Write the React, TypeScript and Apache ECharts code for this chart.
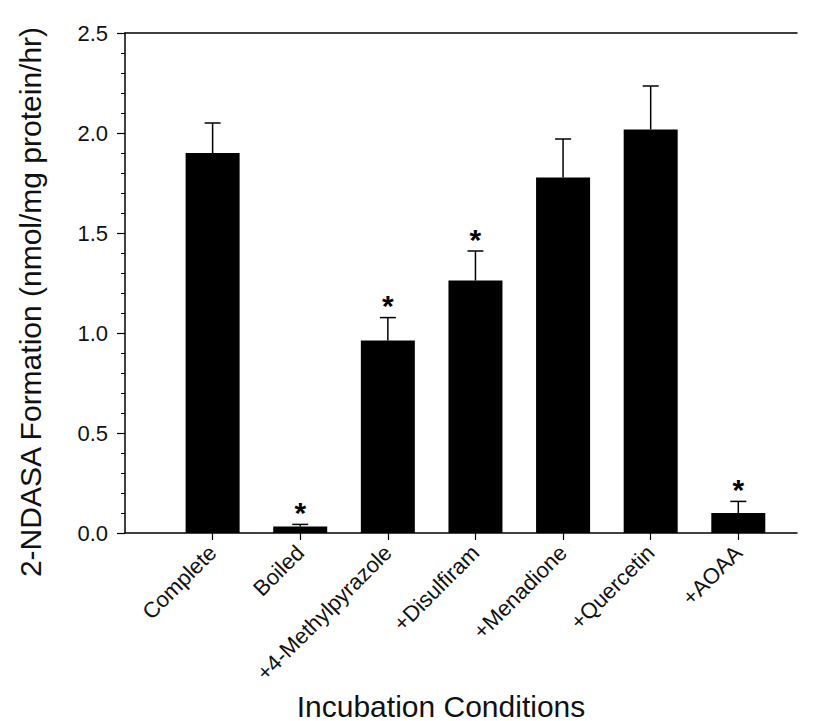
import React, { useEffect, useRef } from "react";
import * as echarts from "echarts";

const categories = ["Complete", "Boiled", "+4-Methylpyrazole", "+Disulfiram", "+Menadione", "+Quercetin", "+AOAA"];
const means = [1.9, 0.032, 0.963, 1.262, 1.777, 2.018, 0.1];
const errorTops = [2.05, 0.043, 1.077, 1.41, 1.97, 2.235, 0.158];
const significant = [false, true, true, true, false, false, true];
const yTicks = [0, 0.5, 1.0, 1.5, 2.0, 2.5];
const yTitle = "2-NDASA Formation (nmol/mg protein/hr)";
const xTitle = "Incubation Conditions";

const FONT = "'Liberation Sans', Arial, Helvetica, sans-serif";

export default function App() {
  const ref = useRef<HTMLDivElement>(null);
  useEffect(() => {
    if (!ref.current) return;
    const chart = echarts.init(ref.current, null, { renderer: "svg" });
    const idx = categories.map((_, i) => i);
    chart.setOption({
      animation: false,
      backgroundColor: "#ffffff",
      grid: { left: 125, right: 20, top: 33, bottom: 188, containLabel: false },
      graphic: [
        {
          type: "text",
          x: 30,
          y: 302,
          rotation: Math.PI / 2,
          style: {
            text: yTitle,
            fontFamily: FONT,
            fontSize: 30,
            fill: "#111",
            align: "center",
            verticalAlign: "middle",
          },
        },
        {
          type: "text",
          x: 441,
          y: 706,
          style: {
            text: xTitle,
            fontFamily: FONT,
            fontSize: 30,
            fill: "#111",
            align: "center",
            verticalAlign: "middle",
          },
        },
      ],
      xAxis: [
        {
          type: "value",
          min: -1,
          max: 6.67,
          interval: 1,
          position: "bottom",
          axisLine: { show: true, onZero: false, lineStyle: { color: "#000", width: 1.5 } },
          axisTick: { show: true, customValues: idx, length: 7, lineStyle: { color: "#000", width: 1.2 } },
          axisLabel: {
            show: true,
            customValues: idx,
            rotate: 45,
            margin: 16,
            fontFamily: FONT,
            fontSize: 22,
            color: "#111",
            formatter: (v: number) => {
              const i = Math.round(v);
              return Math.abs(v - i) < 1e-6 && i >= 0 && i < categories.length ? categories[i] : "";
            },
          },
          splitLine: { show: false },
        },
        {
          type: "value",
          min: -1,
          max: 6.67,
          position: "top",
          axisLine: { show: true, onZero: false, lineStyle: { color: "#000", width: 1.5 } },
          axisTick: { show: false },
          axisLabel: { show: false },
          splitLine: { show: false },
        },
      ],
      yAxis: {
        type: "value",
        min: 0,
        max: 2.5,
        interval: 0.5,
        axisLine: { show: true, onZero: false, lineStyle: { color: "#000", width: 1.5 } },
        axisTick: { show: true, length: 8, lineStyle: { color: "#000", width: 1.2 } },
        minorTick: { show: true, splitNumber: 5, length: 4, lineStyle: { color: "#000", width: 1 } },
        axisLabel: {
          margin: 17,
          fontFamily: FONT,
          fontSize: 22,
          color: "#111",
          customValues: yTicks,
          formatter: (v: number) => v.toFixed(1),
        },
        splitLine: { show: false },
      },
      series: [
        {
          type: "bar",
          xAxisIndex: 0,
          barWidth: 54,
          itemStyle: { color: "#000" },
          data: means.map((v, i) => [i, v]),
          z: 2,
        },
        {
          type: "custom",
          xAxisIndex: 0,
          data: means.map((v, i) => [i, v, errorTops[i], significant[i] ? 1 : 0]),
          z: 3,
          renderItem: (params: any, api: any) => {
            const x = api.value(0);
            const base = api.coord([x, api.value(1)]);
            const top = api.coord([x, api.value(2)]);
            const cap = 8;
            const children: any[] = [
              {
                type: "line",
                shape: { x1: base[0], y1: base[1], x2: top[0], y2: top[1] },
                style: { stroke: "#000", lineWidth: 1.5 },
              },
              {
                type: "line",
                shape: { x1: top[0] - cap, y1: top[1], x2: top[0] + cap, y2: top[1] },
                style: { stroke: "#000", lineWidth: 1.5 },
              },
            ];
            if (api.value(3) === 1) {
              children.push({
                type: "text",
                x: top[0],
                y: top[1] + 3,
                style: {
                  text: "*",
                  fontFamily: FONT,
                  fontSize: 30,
                  fontWeight: "bold",
                  fill: "#000",
                  align: "center",
                  verticalAlign: "bottom",
                },
              });
            }
            return { type: "group", children };
          },
        },
      ],
    });
    return () => chart.dispose();
  }, []);
  return (
    <div
      ref={ref}
      style={{ position: "fixed", left: 0, top: 0, width: 817, height: 721, background: "#fff" }}
    />
  );
}
